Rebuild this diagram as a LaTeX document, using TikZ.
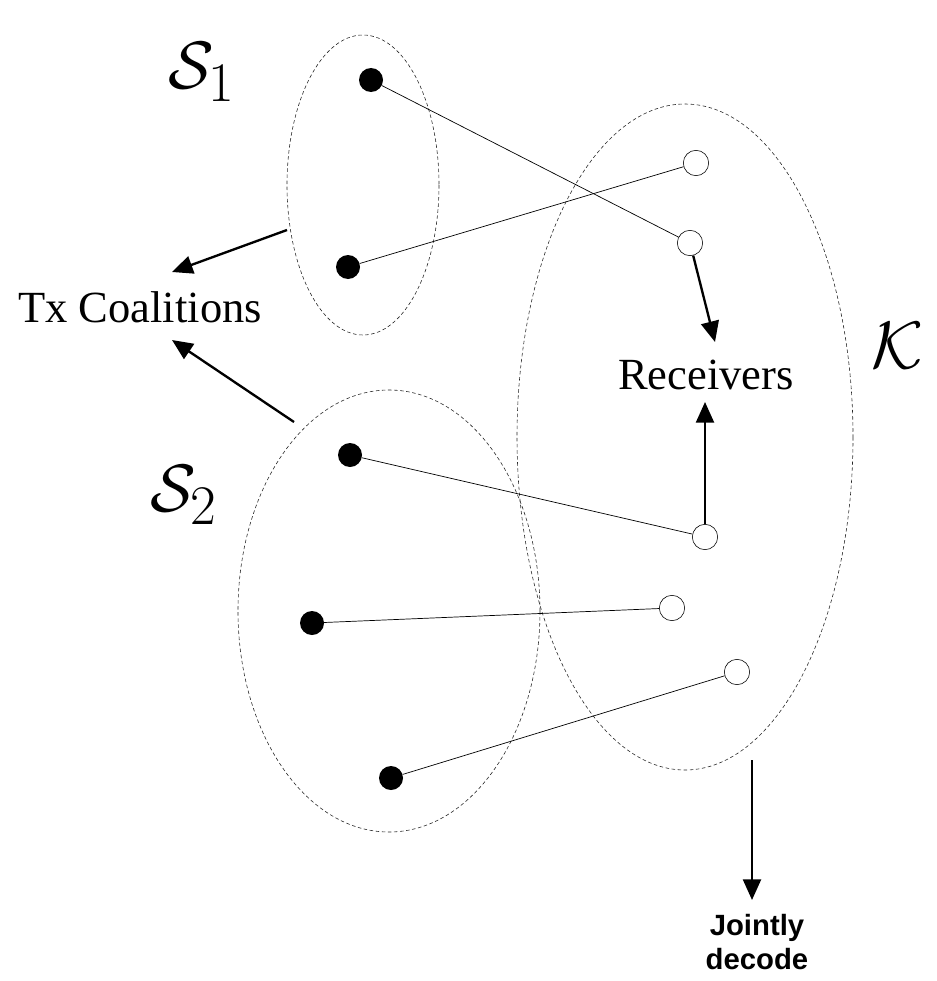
\documentclass[tikz,border=0pt]{standalone}
\usepackage{fontspec}
\setmainfont{Liberation Serif}
\newfontfamily\labelsans{Liberation Sans}
\usetikzlibrary{arrows.meta}

\tikzset{
  txdot/.style={circle, fill=black, inner sep=0pt, minimum size=0.72cm},
  rxdot/.style={circle, draw=black, line width=0.5pt, fill=white, inner sep=0pt, minimum size=0.76cm},
  coalition/.style={dashed, dash pattern=on 3pt off 2.2pt, line width=0.5pt, draw=black!85},
  link/.style={line width=0.6pt},
  pointer/.style={line width=2pt, -{Triangle[length=0.62cm, width=0.54cm]}},
  setlabel/.style={inner sep=0pt, font=\Huge},
  boxlabel/.style={inner sep=0pt, font=\fontsize{38}{44}\selectfont}
}
\newcommand{\biglabel}[1]{\scalebox{2.3}{$#1$}}

\begin{document}
\begin{tikzpicture}[x=0.03cm, y=-0.03cm]
    \useasboundingbox (0,0) rectangle (937,981);
    % Dashed sets: two transmitter coalitions and the receiver set
    \draw[coalition] (363,185) ellipse [x radius=76, y radius=150];
    \draw[coalition] (389,611) ellipse [x radius=151, y radius=221];
    \draw[coalition] (685,437) ellipse [x radius=168, y radius=333];
    % Transmitters (filled) and receivers (open)
    \node[txdot] (t1) at (371,80) {};
    \node[txdot] (t2) at (348,267) {};
    \node[txdot] (t3) at (350,455) {};
    \node[txdot] (t4) at (312,623) {};
    \node[txdot] (t5) at (391,778) {};
    \node[rxdot] (r1) at (696,163) {};
    \node[rxdot] (r2) at (690,243) {};
    \node[rxdot] (r3) at (705,537) {};
    \node[rxdot] (r4) at (672,608) {};
    \node[rxdot] (r5) at (737,672) {};
    % Links
    \draw[link] (t1) -- (r2);
    \draw[link] (t2) -- (r1);
    \draw[link] (t3) -- (r3);
    \draw[link] (t4) -- (r4);
    \draw[link] (t5) -- (r5);
    % Labels
    \node[setlabel] (s1) at (202,72) {\biglabel{\mathcal{S}_1}};
    \node[setlabel] (s2) at (184,495) {\biglabel{\mathcal{S}_2}};
    \node[setlabel] (kset) at (898,346) {\biglabel{\mathcal{K}}};
    \node[boxlabel] (tx) at (140,307) {Tx Coalitions};
    \node[boxlabel] (rx) at (706,375) {Receivers};
    \node[align=center, inner sep=0pt, font=\labelsans\bfseries\fontsize{25}{29}\selectfont]
      (jd) at (757,942) {Jointly\\decode};
    % Pointer arrows
    \coordinate (s1edge) at (287,230);
    \coordinate (s2edge) at (294,422);
    \coordinate (kedge) at (752,760);
    \coordinate (txtop) at (172,272);
    \coordinate (txbot) at (172,340);
    \coordinate (rxtop) at (715,342);
    \coordinate (rxbot) at (705,402);
    \coordinate (jdtop) at (752,900);
    \draw[pointer] (s1edge) -- (txtop);
    \draw[pointer] (s2edge) -- (txbot);
    \draw[pointer] (r2) -- (rxtop);
    \draw[pointer] (r3) -- (rxbot);
    \draw[pointer] (kedge) -- (jdtop);
\end{tikzpicture}
\end{document}
